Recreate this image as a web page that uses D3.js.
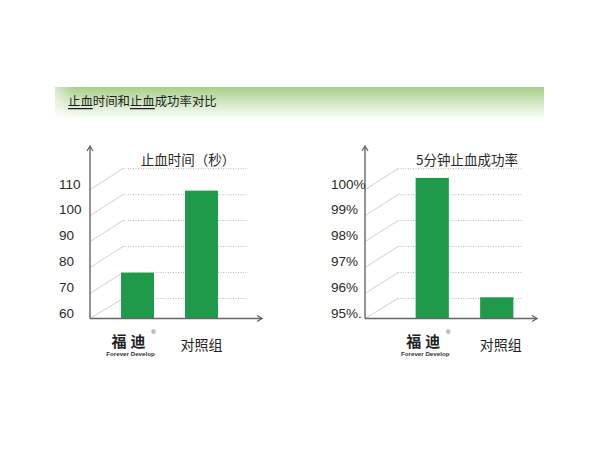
<!DOCTYPE html>
<html>
<head>
<meta charset="utf-8">
<script src="https://cdn.jsdelivr.net/npm/d3@7"></script>
<style>
  html, body { margin: 0; padding: 0; background: #fff; }
  svg { display: block; }
</style>
</head>
<body>
<svg id="chart" width="600" height="450"></svg>
<script>
// ---- data ----
const pageTitle = "止血时间和止血成功率对比";
const groups = ["福迪", "对照组"];

const timeTitle = "止血时间（秒）";
const timeValues = [77, 108.6];
const timeTicks = [60, 70, 80, 90, 100, 110];
const timeTickLabels = ["60", "70", "80", "90", "100", "110"];

const rateTitle = "5分钟止血成功率";
const rateValues = [100.35, 95.75];
const rateTicks = [95, 96, 97, 98, 99, 100];
const rateTickLabels = ["95%.", "96%", "97%", "98%", "99%", "100%"];

// ---- drawing ----
const svg = d3.select("#chart");
const CJK = "'Noto Sans CJK SC', 'Noto Sans', sans-serif";
const LATIN = "'Liberation Sans', Arial, sans-serif";
const barColor = "#1f9a4b";
const axisColor = "#666";

// header band with a green-to-white fade
const defs = svg.append("defs");
const grad = defs.append("linearGradient")
  .attr("id", "headFade").attr("x1", 0).attr("y1", 0).attr("x2", 0).attr("y2", 1);
grad.append("stop").attr("offset", "0%").attr("stop-color", "#a6cf8b");
grad.append("stop").attr("offset", "45%").attr("stop-color", "#cfe5bf");
grad.append("stop").attr("offset", "100%").attr("stop-color", "#ffffff");
const gradL = defs.append("linearGradient")
  .attr("id", "headEdge").attr("x1", 0).attr("y1", 0).attr("x2", 1).attr("y2", 0);
gradL.append("stop").attr("offset", "0%").attr("stop-color", "#fff").attr("stop-opacity", 0.55);
gradL.append("stop").attr("offset", "4%").attr("stop-color", "#fff").attr("stop-opacity", 0);
gradL.append("stop").attr("offset", "100%").attr("stop-color", "#fff").attr("stop-opacity", 0);

svg.append("rect").attr("x", 55).attr("y", 87).attr("width", 489).attr("height", 32)
  .attr("fill", "url(#headFade)");
svg.append("rect").attr("x", 55).attr("y", 87).attr("width", 489).attr("height", 32)
  .attr("fill", "url(#headEdge)");

const head = svg.append("text")
  .attr("x", 68).attr("y", 101)
  .attr("dominant-baseline", "central")
  .attr("font-family", CJK).attr("font-size", 12.4).attr("fill", "#1e1e1e");
// the two "止血" words are styled as links
const headParts = [["止血", true], ["时间和", false], ["止血", true], ["成功率对比", false]];
headParts.forEach(([t, u]) => {
  head.append("tspan").text(t).style("text-decoration", u ? "underline" : "none");
});

function drawPanel(cfg) {
  const g = svg.append("g");
  const y = d3.scaleLinear().domain(cfg.domain).range([316.75, 187]);
  const x = d3.scaleBand().domain(groups).range(cfg.xRange)
    .paddingInner(0.485).paddingOuter(cfg.outer);

  const ax = cfg.axisX;
  const baseY = y(cfg.domain[0]) + 1.75;
  const depthX = 33, frontOff = 2.7, backOff = -18.3;

  // gridlines: slanted edge on the side wall, dotted line on the back wall
  cfg.ticks.forEach(v => {
    const fy = Math.min(y(v) + frontOff, baseY);
    const by = y(v) + backOff;
    g.append("line")
      .attr("x1", ax).attr("y1", fy).attr("x2", ax + depthX).attr("y2", by)
      .attr("stroke", "#cfcfcf").attr("stroke-width", 1);
    g.append("line")
      .attr("x1", ax + depthX).attr("y1", by).attr("x2", cfg.gridEnd).attr("y2", by)
      .attr("stroke", "#b9b9b9").attr("stroke-width", 1)
      .attr("stroke-dasharray", "1,1.5");
  });

  // bars
  g.selectAll("rect.bar").data(cfg.values).enter().append("rect")
    .attr("class", "bar")
    .attr("x", (d, i) => x(groups[i]))
    .attr("width", x.bandwidth())
    .attr("y", d => y(d))
    .attr("height", d => baseY - y(d))
    .attr("fill", barColor);

  // axes with open arrowheads
  g.append("line").attr("x1", ax).attr("y1", baseY).attr("x2", ax).attr("y2", 146)
    .attr("stroke", axisColor).attr("stroke-width", 1.4);
  g.append("path").attr("d", `M${ax - 3},${151} L${ax},${146} L${ax + 3},${151}`)
    .attr("fill", "none").attr("stroke", axisColor).attr("stroke-width", 1.3);
  g.append("line").attr("x1", ax).attr("y1", baseY).attr("x2", cfg.arrowX).attr("y2", baseY)
    .attr("stroke", axisColor).attr("stroke-width", 1.4);
  g.append("path").attr("d", `M${cfg.arrowX - 5},${baseY - 3} L${cfg.arrowX},${baseY} L${cfg.arrowX - 5},${baseY + 3}`)
    .attr("fill", "none").attr("stroke", axisColor).attr("stroke-width", 1.3);

  // tick labels
  g.selectAll("text.tick").data(cfg.ticks).enter().append("text")
    .attr("class", "tick")
    .attr("x", cfg.labelX)
    .attr("y", v => y(v) - 3)
    .attr("dominant-baseline", "central")
    .attr("font-family", LATIN).attr("font-size", 13.5).attr("fill", "#2a2a2a")
    .text((v, i) => cfg.tickLabels[i]);

  // panel title
  g.append("text")
    .attr("x", cfg.titleX).attr("y", 159)
    .attr("text-anchor", "middle").attr("dominant-baseline", "central")
    .attr("font-family", CJK).attr("font-size", 13.5).attr("fill", "#2a2a2a")
    .text(cfg.title);

  // category labels: brand mark for the first group, plain text for the control
  const c0 = x(groups[0]) + x.bandwidth() / 2 - 7;
  g.append("text")
    .attr("x", c0).attr("y", 340)
    .attr("text-anchor", "middle").attr("dominant-baseline", "central")
    .attr("font-family", CJK).attr("font-weight", 700).attr("font-size", 15)
    .attr("letter-spacing", 4).attr("fill", "#222")
    .text(groups[0]);
  g.append("text")
    .attr("x", c0 + 23).attr("y", 332)
    .attr("text-anchor", "middle").attr("dominant-baseline", "central")
    .attr("font-family", LATIN).attr("font-size", 6).attr("fill", "#333")
    .text("®");
  g.append("text")
    .attr("x", c0).attr("y", 353.5)
    .attr("text-anchor", "middle").attr("dominant-baseline", "central")
    .attr("font-family", LATIN).attr("font-weight", 700).attr("font-size", 6.2).attr("fill", "#333")
    .text("Forever Develop");

  const c1 = x(groups[1]) + x.bandwidth() / 2 + cfg.ctrlShift;
  g.append("text")
    .attr("x", c1).attr("y", 344)
    .attr("text-anchor", "middle").attr("dominant-baseline", "central")
    .attr("font-family", CJK).attr("font-size", 14).attr("fill", "#222")
    .text(groups[1]);
}

drawPanel({
  domain: [60, 110], ticks: timeTicks, tickLabels: timeTickLabels, values: timeValues,
  title: timeTitle, titleX: 188, axisX: 90, xRange: [90, 249], outer: 0.485,
  gridEnd: 248, arrowX: 262, labelX: 59, ctrlShift: 0
});
drawPanel({
  domain: [95, 100], ticks: rateTicks, tickLabels: rateTickLabels, values: rateValues,
  title: rateTitle, titleX: 467, axisX: 365, xRange: [365, 564], outer: 0.785,
  gridEnd: 523, arrowX: 537, labelX: 331, ctrlShift: 4
});
</script>
</body>
</html>
